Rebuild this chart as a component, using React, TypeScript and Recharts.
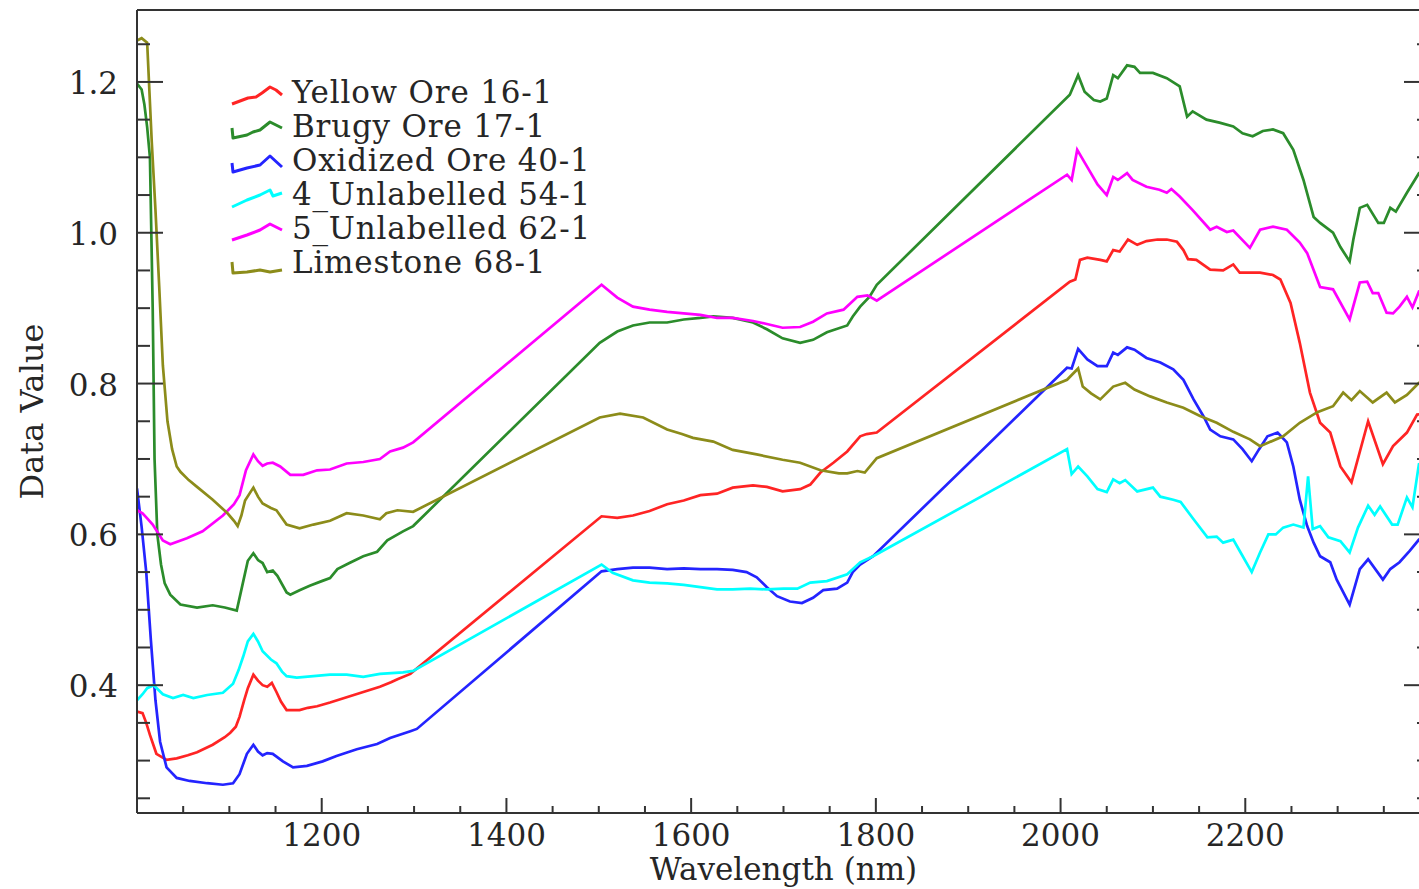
import React from 'react'
import { LineChart, Line, XAxis, YAxis, Legend } from 'recharts'

// wavelength (nm) / reflectance pairs
const wlYellow = [1000, 1006, 1010, 1014, 1021, 1032, 1043, 1055, 1065, 1082, 1095, 1101, 1107, 1111, 1116, 1120, 1126, 1131, 1136, 1141, 1146, 1151, 1156, 1162, 1176, 1185, 1195, 1209, 1227, 1245, 1263, 1275, 1282, 1296, 1503, 1520, 1537, 1555, 1574, 1592, 1610, 1628, 1645, 1667, 1682, 1699, 1718, 1729, 1740, 1754, 1769, 1783, 1790, 1801, 2010, 2016, 2021, 2029, 2043, 2050, 2057, 2064, 2073, 2083, 2093, 2105, 2115, 2126, 2133, 2138, 2147, 2162, 2176, 2187, 2194, 2216, 2230, 2238, 2249, 2259, 2270, 2281, 2292, 2303, 2315, 2333, 2349, 2360, 2375, 2386, 2400]
const yellowOre = [0.365, 0.363, 0.35, 0.334, 0.309, 0.301, 0.303, 0.307, 0.311, 0.321, 0.331, 0.337, 0.345, 0.358, 0.38, 0.396, 0.414, 0.406, 0.4, 0.398, 0.403, 0.391, 0.378, 0.367, 0.367, 0.37, 0.372, 0.377, 0.384, 0.391, 0.398, 0.404, 0.408, 0.415, 0.624, 0.622, 0.625, 0.631, 0.64, 0.645, 0.652, 0.654, 0.662, 0.665, 0.663, 0.657, 0.66, 0.666, 0.682, 0.695, 0.71, 0.73, 0.733, 0.735, 0.935, 0.938, 0.964, 0.967, 0.964, 0.962, 0.977, 0.975, 0.991, 0.984, 0.989, 0.991, 0.991, 0.988, 0.977, 0.965, 0.964, 0.951, 0.95, 0.958, 0.947, 0.947, 0.944, 0.938, 0.907, 0.854, 0.788, 0.748, 0.735, 0.69, 0.669, 0.75, 0.693, 0.717, 0.735, 0.759, 0.76]

const wlBrugy = [1000, 1005, 1008, 1011, 1014, 1017, 1019, 1022, 1026, 1030, 1036, 1047, 1065, 1082, 1095, 1108, 1114, 1120, 1126, 1131, 1136, 1141, 1147, 1152, 1162, 1166, 1176, 1187, 1200, 1209, 1217, 1230, 1245, 1260, 1271, 1288, 1299, 1501, 1520, 1537, 1555, 1574, 1592, 1610, 1624, 1645, 1667, 1682, 1699, 1718, 1732, 1747, 1769, 1775, 1783, 1793, 1801, 2010, 2019, 2026, 2036, 2043, 2050, 2057, 2062, 2072, 2080, 2086, 2100, 2115, 2129, 2137, 2143, 2158, 2172, 2187, 2197, 2208, 2219, 2230, 2241, 2252, 2263, 2274, 2281, 2295, 2303, 2313, 2317, 2324, 2332, 2344, 2350, 2357, 2363, 2375, 2388, 2400]
const brugyOre = [1.198, 1.19, 1.17, 1.14, 1.1, 0.9, 0.7, 0.6, 0.56, 0.535, 0.52, 0.507, 0.503, 0.506, 0.503, 0.499, 0.532, 0.565, 0.575, 0.566, 0.562, 0.55, 0.552, 0.545, 0.523, 0.52, 0.526, 0.532, 0.538, 0.542, 0.554, 0.562, 0.571, 0.577, 0.592, 0.604, 0.611, 0.854, 0.869, 0.877, 0.881, 0.881, 0.885, 0.887, 0.889, 0.887, 0.881, 0.872, 0.86, 0.854, 0.858, 0.868, 0.877, 0.889, 0.902, 0.915, 0.931, 1.183, 1.209, 1.187, 1.176, 1.174, 1.178, 1.209, 1.205, 1.222, 1.22, 1.212, 1.212, 1.205, 1.194, 1.154, 1.161, 1.15, 1.146, 1.141, 1.132, 1.128, 1.135, 1.137, 1.132, 1.11, 1.07, 1.021, 1.013, 1.0, 0.981, 0.962, 0.991, 1.033, 1.037, 1.013, 1.013, 1.033, 1.028, 1.053, 1.079, 1.09]

const wlOxidized = [1000, 1005, 1010, 1015, 1020, 1025, 1032, 1043, 1057, 1076, 1093, 1104, 1111, 1119, 1126, 1131, 1136, 1141, 1147, 1158, 1169, 1184, 1201, 1216, 1238, 1260, 1274, 1296, 1303, 1503, 1520, 1537, 1555, 1574, 1592, 1610, 1628, 1645, 1660, 1671, 1682, 1693, 1707, 1720, 1732, 1743, 1758, 1769, 1775, 1783, 1797, 2007, 2012, 2019, 2029, 2040, 2050, 2057, 2062, 2072, 2080, 2093, 2108, 2122, 2133, 2144, 2155, 2162, 2173, 2187, 2197, 2207, 2215, 2224, 2235, 2245, 2252, 2259, 2267, 2274, 2281, 2292, 2299, 2313, 2324, 2333, 2349, 2357, 2367, 2378, 2388, 2400]
const oxidizedOre = [0.661, 0.61, 0.55, 0.46, 0.38, 0.325, 0.291, 0.277, 0.273, 0.27, 0.268, 0.27, 0.282, 0.309, 0.321, 0.312, 0.307, 0.31, 0.309, 0.299, 0.291, 0.293, 0.299, 0.306, 0.315, 0.322, 0.33, 0.339, 0.342, 0.551, 0.554, 0.556, 0.556, 0.554, 0.555, 0.554, 0.554, 0.553, 0.55, 0.543, 0.53, 0.518, 0.511, 0.509, 0.516, 0.526, 0.528, 0.536, 0.55, 0.56, 0.571, 0.821, 0.82, 0.846, 0.832, 0.823, 0.823, 0.841, 0.838, 0.848, 0.845, 0.834, 0.828, 0.819, 0.805, 0.779, 0.756, 0.739, 0.73, 0.726, 0.713, 0.697, 0.713, 0.73, 0.735, 0.722, 0.69, 0.646, 0.611, 0.589, 0.571, 0.563, 0.54, 0.507, 0.554, 0.567, 0.54, 0.554, 0.563, 0.578, 0.593, 0.6]

const wlUnlabelled4 = [1000, 1006, 1011, 1018, 1028, 1039, 1050, 1061, 1076, 1093, 1104, 1110, 1115, 1120, 1126, 1131, 1136, 1145, 1151, 1157, 1162, 1173, 1191, 1209, 1227, 1245, 1263, 1288, 1299, 1503, 1515, 1537, 1555, 1574, 1592, 1610, 1628, 1645, 1664, 1682, 1700, 1715, 1729, 1747, 1769, 1783, 1797, 2007, 2012, 2019, 2029, 2040, 2050, 2057, 2064, 2070, 2083, 2100, 2108, 2122, 2130, 2144, 2159, 2169, 2176, 2187, 2194, 2207, 2216, 2225, 2233, 2241, 2252, 2263, 2268, 2273, 2281, 2290, 2303, 2313, 2322, 2333, 2340, 2346, 2359, 2365, 2375, 2381, 2388, 2400]
const unlabelled4 = [0.38, 0.388, 0.396, 0.4, 0.388, 0.383, 0.387, 0.383, 0.387, 0.39, 0.402, 0.42, 0.438, 0.458, 0.468, 0.458, 0.445, 0.434, 0.429, 0.418, 0.412, 0.41, 0.412, 0.414, 0.414, 0.411, 0.415, 0.417, 0.419, 0.56, 0.549, 0.539, 0.536, 0.535, 0.533, 0.53, 0.527, 0.527, 0.528, 0.527, 0.528, 0.528, 0.536, 0.538, 0.547, 0.563, 0.571, 0.713, 0.68, 0.69, 0.677, 0.66, 0.656, 0.673, 0.668, 0.672, 0.657, 0.662, 0.65, 0.646, 0.643, 0.62, 0.596, 0.597, 0.589, 0.593, 0.578, 0.55, 0.576, 0.6, 0.6, 0.609, 0.613, 0.609, 0.677, 0.607, 0.611, 0.596, 0.591, 0.576, 0.609, 0.638, 0.626, 0.637, 0.613, 0.613, 0.649, 0.636, 0.693, 0.7]

const wlUnlabelled5 = [1000, 1006, 1012, 1017, 1028, 1036, 1054, 1071, 1093, 1105, 1111, 1118, 1126, 1131, 1136, 1141, 1147, 1155, 1166, 1180, 1195, 1209, 1227, 1245, 1263, 1274, 1288, 1299, 1503, 1520, 1537, 1555, 1574, 1592, 1610, 1628, 1645, 1667, 1682, 1699, 1718, 1732, 1747, 1765, 1780, 1791, 1801, 2007, 2012, 2018, 2029, 2040, 2050, 2057, 2062, 2072, 2078, 2093, 2107, 2115, 2120, 2129, 2143, 2162, 2169, 2180, 2187, 2205, 2216, 2230, 2245, 2259, 2267, 2281, 2295, 2313, 2324, 2332, 2338, 2344, 2353, 2360, 2367, 2375, 2381, 2388, 2400]
const unlabelled5 = [0.632, 0.628, 0.62, 0.613, 0.592, 0.587, 0.595, 0.604, 0.625, 0.64, 0.652, 0.685, 0.706, 0.697, 0.691, 0.694, 0.695, 0.69, 0.679, 0.679, 0.685, 0.686, 0.694, 0.696, 0.7, 0.71, 0.715, 0.722, 0.931, 0.914, 0.902, 0.898, 0.895, 0.893, 0.891, 0.887, 0.887, 0.883, 0.879, 0.874, 0.875, 0.882, 0.893, 0.898, 0.915, 0.917, 0.91, 1.077, 1.07, 1.11, 1.087, 1.064, 1.05, 1.074, 1.07, 1.079, 1.07, 1.061, 1.057, 1.053, 1.058, 1.048, 1.03, 1.004, 1.008, 1.001, 1.003, 0.98, 1.004, 1.008, 1.004, 0.987, 0.973, 0.928, 0.925, 0.885, 0.934, 0.935, 0.92, 0.92, 0.894, 0.893, 0.902, 0.915, 0.901, 0.922, 0.92]

const wlLimestone = [1000, 1005, 1011, 1016, 1020, 1024, 1028, 1033, 1038, 1043, 1047, 1056, 1065, 1082, 1098, 1105, 1109, 1113, 1117, 1126, 1131, 1136, 1145, 1151, 1162, 1176, 1191, 1209, 1227, 1245, 1263, 1270, 1282, 1299, 1501, 1523, 1548, 1574, 1590, 1602, 1624, 1645, 1671, 1699, 1718, 1740, 1760, 1769, 1780, 1788, 1801, 2007, 2019, 2024, 2033, 2043, 2057, 2070, 2080, 2097, 2115, 2133, 2151, 2169, 2187, 2205, 2216, 2241, 2259, 2278, 2295, 2306, 2315, 2324, 2338, 2353, 2362, 2375, 2388, 2400]
const limestone = [1.255, 1.258, 1.252, 1.12, 1.03, 0.93, 0.824, 0.75, 0.713, 0.69, 0.683, 0.672, 0.663, 0.646, 0.628, 0.618, 0.611, 0.625, 0.645, 0.662, 0.65, 0.641, 0.635, 0.632, 0.613, 0.608, 0.613, 0.618, 0.628, 0.625, 0.62, 0.628, 0.632, 0.63, 0.755, 0.76, 0.755, 0.739, 0.733, 0.728, 0.723, 0.712, 0.706, 0.699, 0.695, 0.685, 0.681, 0.681, 0.684, 0.682, 0.701, 0.805, 0.82, 0.796, 0.787, 0.779, 0.796, 0.801, 0.792, 0.783, 0.775, 0.768, 0.757, 0.748, 0.736, 0.726, 0.717, 0.73, 0.748, 0.762, 0.77, 0.788, 0.778, 0.79, 0.775, 0.788, 0.775, 0.785, 0.801, 0.8]

const xMajor = [1200, 1400, 1600, 1800, 2000, 2200]
const xTicks = [1050, 1100, 1150, 1200, 1250, 1300, 1350, 1400, 1450, 1500, 1550, 1600, 1650, 1700, 1750, 1800, 1850, 1900, 1950, 2000, 2050, 2100, 2150, 2200, 2250, 2300, 2350]
const yMajor = [0.4, 0.6, 0.8, 1.0, 1.2]
const yTicks = [0.25, 0.3, 0.35, 0.4, 0.45, 0.5, 0.55, 0.6, 0.65, 0.7, 0.75, 0.8, 0.85, 0.9, 0.95, 1.0, 1.05, 1.1, 1.15, 1.2, 1.25]

const series = [
  { name: 'Yellow Ore 16-1', color: '#ff2424', wl: wlYellow, values: yellowOre },
  { name: 'Brugy Ore 17-1', color: '#2b8c2b', wl: wlBrugy, values: brugyOre },
  { name: 'Oxidized Ore 40-1', color: '#2424ff', wl: wlOxidized, values: oxidizedOre },
  { name: '4_Unlabelled 54-1', color: '#00ffff', wl: wlUnlabelled4, values: unlabelled4 },
  { name: '5_Unlabelled 62-1', color: '#ff00ff', wl: wlUnlabelled5, values: unlabelled5 },
  { name: 'Limestone 68-1', color: '#8c8c1a', wl: wlLimestone, values: limestone },
]

// little spectrum-like squiggles used as legend keys (offsets from the text baseline)
const legendIcons = [
  'M4,1 L12,-2 L20,-5 L28,-6 L34,-10 L42,-16 L48,-13 L54,-8',
  'M4,-9 L5,1 L19,-2 L25,-5 L32,-7 L42,-15 L54,-9',
  'M4,-8 L5,1 L19,-3 L32,-6 L42,-15 L54,-4',
  'M4,2 L19,-5 L32,-10 L42,-15 L45,-9 L54,-12',
  'M4,1 L19,-4 L32,-9 L42,-15 L54,-9',
  'M4,-11 L5,0 L19,-1 L32,-3 L42,-1 L54,-3',
]

const FONT = '"DejaVu Serif", serif'
const INK = '#262626'
const AXIS = '#333333'

const isMajor = (list: number[], v: number) => list.some((m) => Math.abs(m - v) < 1e-6)

const LeftTick = ({ x, y, payload }: any) => {
  const major = isMajor(yMajor, payload.value)
  return (
    <g>
      <line x1={x} y1={y} x2={x + (major ? 26 : 13)} y2={y} stroke={AXIS} strokeWidth={2} />
      {major && (
        <text x={x - 19} y={y + 12} textAnchor="end" fontSize={31} fontFamily={FONT} fill={INK}>
          {payload.value.toFixed(1)}
        </text>
      )}
    </g>
  )
}

const RightTick = ({ x, y, payload }: any) => {
  const major = isMajor(yMajor, payload.value)
  return <line x1={x} y1={y} x2={x - (major ? 26 : 13)} y2={y} stroke={AXIS} strokeWidth={2} />
}

const BottomTick = ({ x, y, payload }: any) => {
  const major = isMajor(xMajor, payload.value)
  return (
    <g>
      <line x1={x} y1={y} x2={x} y2={y - (major ? 15 : 7)} stroke={AXIS} strokeWidth={2} />
      {major && (
        <text x={x} y={y + 33} textAnchor="middle" fontSize={31} fontFamily={FONT} fill={INK}>
          {payload.value}
        </text>
      )}
    </g>
  )
}

const TopTick = ({ x, y, payload }: any) => {
  const major = isMajor(xMajor, payload.value)
  return <line x1={x} y1={y} x2={x} y2={y + (major ? 15 : 7)} stroke={AXIS} strokeWidth={2} />
}

const XTitle = ({ viewBox }: any) => (
  <text x={viewBox.x + viewBox.width / 2} y={viewBox.y + 67} textAnchor="middle" fontSize={31} fontFamily={FONT} fill={INK}>
    Wavelength (nm)
  </text>
)

const YTitle = ({ viewBox }: any) => {
  const cy = viewBox.y + viewBox.height / 2
  return (
    <text x={43} y={cy} transform={`rotate(-90, 43, ${cy})`} textAnchor="middle" fontSize={32} fontFamily={FONT} fill={INK}>
      Data Value
    </text>
  )
}

const SpectraLegend = () => (
  <svg width={440} height={215} style={{ display: 'block', overflow: 'visible' }}>
    {series.map((s, i) => {
      const base = 25 + i * 34
      return (
        <g key={s.name}>
          <path d={legendIcons[i]} transform={`translate(0, ${base})`} fill="none" stroke={s.color} strokeWidth={3} strokeLinejoin="round" />
          <text x={64} y={base} fontSize={31} letterSpacing={0.8} fontFamily={FONT} fill={INK}>
            {s.name}
          </text>
        </g>
      )
    })}
  </svg>
)

export default function App() {
  return (
    <div style={{ position: 'fixed', left: 0, top: 0, width: 1419, height: 889, overflow: 'hidden', background: '#fff' }}>
      <LineChart width={1450} height={889} margin={{ top: 0, right: 0, bottom: 0, left: 0 }}>
        <XAxis
          dataKey="wl"
          type="number"
          domain={[1000, 2400]}
          allowDataOverflow
          ticks={xTicks}
          interval={0}
          tickSize={0}
          tickMargin={0}
          tickLine={false}
          tick={<BottomTick />}
          axisLine={{ stroke: AXIS, strokeWidth: 2 }}
          height={76}
          label={<XTitle />}
        />
        <XAxis
          xAxisId="top"
          orientation="top"
          type="number"
          domain={[1000, 2400]}
          allowDataOverflow
          ticks={xTicks}
          interval={0}
          tickSize={0}
          tickMargin={0}
          tickLine={false}
          tick={<TopTick />}
          axisLine={{ stroke: AXIS, strokeWidth: 2 }}
          height={10}
        />
        <YAxis
          type="number"
          domain={[0.2305, 1.2954]}
          allowDataOverflow
          ticks={yTicks}
          interval={0}
          tickSize={0}
          tickMargin={0}
          tickLine={false}
          tick={<LeftTick />}
          axisLine={{ stroke: AXIS, strokeWidth: 2 }}
          width={137}
          label={<YTitle />}
        />
        <YAxis
          yAxisId="right"
          orientation="right"
          type="number"
          domain={[0.2305, 1.2954]}
          allowDataOverflow
          ticks={yTicks}
          interval={0}
          tickSize={0}
          tickMargin={0}
          tickLine={false}
          tick={<RightTick />}
          axisLine={{ stroke: AXIS, strokeWidth: 2 }}
          width={20}
        />
        <Legend
          layout="vertical"
          align="center"
          verticalAlign="middle"
          content={<SpectraLegend />}
          wrapperStyle={{ position: 'absolute', left: 228, top: 78, width: 440, height: 215 }}
        />
        {series.map((s) => (
          <Line
            key={s.name}
            name={s.name}
            data={s.wl.map((wl, i) => ({ wl, v: s.values[i] }))}
            dataKey="v"
            type="linear"
            stroke={s.color}
            strokeWidth={2.7}
            dot={false}
            activeDot={false}
            isAnimationActive={false}
          />
        ))}
      </LineChart>
    </div>
  )
}
